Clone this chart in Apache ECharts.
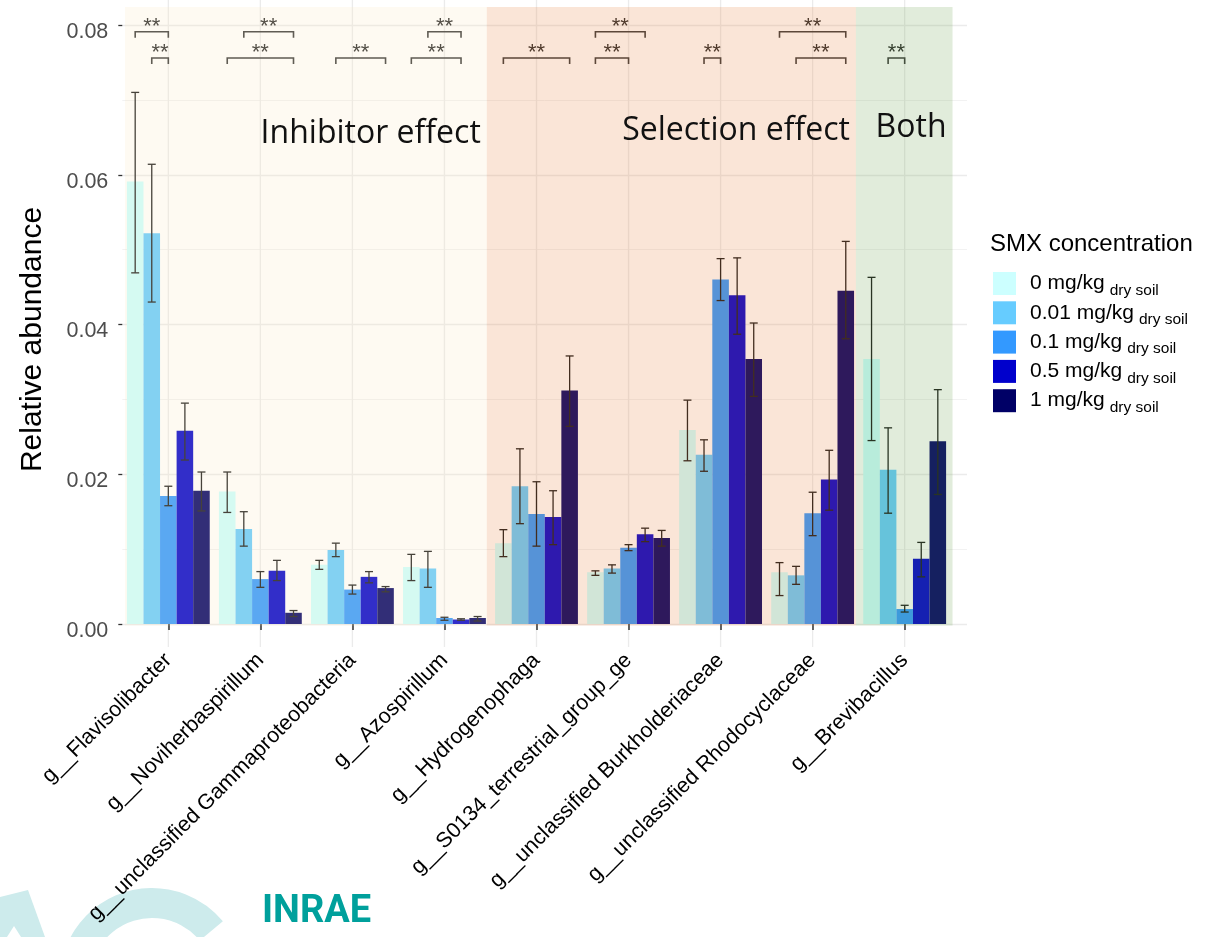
<!DOCTYPE html>
<html><head><meta charset="utf-8">
<script src="https://cdn.jsdelivr.net/npm/echarts@6/dist/echarts.min.js"></script>
<style>html,body{margin:0;padding:0;background:#fff}#c{width:1211px;height:937px}</style>
</head><body><div id="c"></div>
<script>
// ---------- data ----------
const genera = ['g__Flavisolibacter','g__Noviherbaspirillum','g__unclassified Gammaproteobacteria','g__Azospirillum','g__Hydrogenophaga','g__S0134_terrestrial_group_ge','g__unclassified Burkholderiaceae','g__unclassified Rhodocyclaceae','g__Brevibacillus'];
const concentrations = ['0 mg/kg','0.01 mg/kg','0.1 mg/kg','0.5 mg/kg','1 mg/kg'];
const mean0   = [0.0591, 0.0177, 0.0079, 0.0076, 0.0108, 0.0069, 0.0259, 0.0069, 0.0354];
const mean001 = [0.0522, 0.0127, 0.0099, 0.0074, 0.0184, 0.0074, 0.0226, 0.0065, 0.0206];
const mean01  = [0.0171, 0.0060, 0.0046, 0.0008, 0.0147, 0.0102, 0.0460, 0.0148, 0.0020];
const mean05  = [0.0258, 0.0071, 0.0063, 0.0006, 0.0143, 0.0120, 0.0439, 0.0193, 0.0087];
const mean1   = [0.0178, 0.0015, 0.0048, 0.0008, 0.0312, 0.0115, 0.0354, 0.0445, 0.0244];
const hi0   = [0.0710, 0.0203, 0.0085, 0.0093, 0.0126, 0.0071, 0.0299, 0.0082, 0.0463];
const lo0   = [0.0469, 0.0149, 0.0073, 0.0058, 0.0090, 0.0065, 0.0218, 0.0038, 0.0245];
const hi001 = [0.0614, 0.0150, 0.0108, 0.0097, 0.0234, 0.0079, 0.0246, 0.0077, 0.0262];
const lo001 = [0.0430, 0.0104, 0.0090, 0.0049, 0.0134, 0.0068, 0.0204, 0.0053, 0.0148];
const hi01  = [0.0184, 0.0070, 0.0052, 0.0009, 0.0190, 0.0106, 0.0488, 0.0176, 0.0025];
const lo01  = [0.0158, 0.0049, 0.0040, 0.0005, 0.0104, 0.0098, 0.0432, 0.0118, 0.0016];
const hi05  = [0.0295, 0.0085, 0.0070, 0.0007, 0.0178, 0.0128, 0.0489, 0.0232, 0.0109];
const lo05  = [0.0219, 0.0058, 0.0055, 0.0005, 0.0106, 0.0110, 0.0387, 0.0152, 0.0063];
const hi1   = [0.0203, 0.0018, 0.0050, 0.0010, 0.0358, 0.0125, 0.0402, 0.0511, 0.0313];
const lo1   = [0.0151, 0.0010, 0.0043, 0.0004, 0.0264, 0.0104, 0.0304, 0.0381, 0.0173];
const yTicks = [0.00, 0.02, 0.04, 0.06, 0.08];
// significance brackets: genus index, from bar, to bar, row
const bracketGenus = [0, 0, 1, 1, 2, 3, 3, 4, 5, 5, 6, 7, 7, 8];
const bracketFrom  = [0, 1, 1, 0, 1, 1, 0, 0, 0, 0, 1, 0, 1, 1];
const bracketTo    = [2, 2, 4, 4, 4, 3, 3, 4, 3, 2, 2, 4, 4, 2];
const bracketRow   = [0, 1, 0, 1, 1, 0, 1, 1, 0, 1, 1, 0, 1, 1];
const bracketLabel = '**';
// shaded effect regions (in genus-index units)
const regionNames = ['Inhibitor effect', 'Selection effect', 'Both'];
const regionFrom  = [-0.47, 3.46, 7.47];
const regionTo    = [3.46, 7.47, 8.52];

// ---------- styles / layout ----------
const means = [mean0, mean001, mean01, mean05, mean1];
const his = [hi0, hi001, hi01, hi05, hi1];
const los = [lo0, lo001, lo01, lo05, lo1];
const barColors = ['#CCFFFF', '#66CCFF', '#3399FF', '#0000CC', '#000066'];
const regionFill = ['rgba(250,230,190,0.2)', 'rgba(230,127,54,0.2)', 'rgba(103,162,74,0.2)'];
const regionLabelY = [0.0655, 0.0659, 0.0663];
const FONT = "'Liberation Sans', Arial, sans-serif";
const BRACKET_Y = [0.0791, 0.0756];
const REG_TOP = 0.0824, REG_BOT = -0.0002;
const Y0MIN = -0.00307, Y0MAX = 0.08334;
const GL = 122.3, GR = 260.3;

const chart = echarts.init(document.getElementById('c'), null, {renderer: 'canvas'});

const series = [];
// vertical grid lines at genus centres
series.push({
  type: 'custom', xAxisIndex: 0, yAxisIndex: 0, z: 0, silent: true,
  data: genera.map((g, i) => [i]),
  encode: {x: 0},
  renderItem(params, api) {
    const i = api.value(0);
    const top = api.coord([i, Y0MAX]), bot = api.coord([i, Y0MIN]);
    return {type: 'line', shape: {x1: top[0], y1: top[1], x2: bot[0], y2: bot[1]},
      style: {stroke: '#EBEBEB', lineWidth: 1.3}};
  }
});
// bars
concentrations.forEach((c, j) => {
  series.push({
    name: c, type: 'bar', xAxisIndex: 0, yAxisIndex: 0, z: 2,
    barGap: '0%', barCategoryGap: '10%',
    itemStyle: {color: barColors[j]},
    data: means[j]
  });
});
// error bars
concentrations.forEach((c, j) => {
  series.push({
    type: 'custom', xAxisIndex: 0, yAxisIndex: 0, z: 3, silent: true,
    data: means[j].map((m, i) => [i, m, his[j][i], los[j][i]]),
    encode: {x: 0, y: 1},
    renderItem(params, api) {
      const i = api.value(0);
      const band = api.size([1, 0])[0];
      const bw = band * 0.9 / 5;
      const cx = api.coord([i, 0])[0] + (j - 2) * bw;
      const yh = api.coord([i, api.value(2)])[1];
      const yl = api.coord([i, api.value(3)])[1];
      const cap = 4;
      const st = {stroke: '#1a1a1a', lineWidth: 1.3};
      return {type: 'group', children: [
        {type: 'line', shape: {x1: cx, y1: yh, x2: cx, y2: yl}, style: st},
        {type: 'line', shape: {x1: cx - cap, y1: yh, x2: cx + cap, y2: yh}, style: st},
        {type: 'line', shape: {x1: cx - cap, y1: yl, x2: cx + cap, y2: yl}, style: st}
      ]};
    }
  });
});
// significance brackets
series.push({
  type: 'custom', xAxisIndex: 0, yAxisIndex: 0, z: 4, silent: true,
  data: bracketGenus.map((g, k) => [g, bracketFrom[k], bracketTo[k], bracketRow[k]]),
  encode: {x: 0},
  renderItem(params, api) {
    const g = api.value(0), a = api.value(1), b = api.value(2), r = api.value(3);
    const band = api.size([1, 0])[0];
    const bw = band * 0.9 / 5;
    const c = api.coord([g, 0])[0];
    const xa = c + (a - 2) * bw, xb = c + (b - 2) * bw;
    const y = api.coord([g, BRACKET_Y[r]])[1];
    return {type: 'group', children: [
      {type: 'polyline', shape: {points: [[xa, y + 6], [xa, y], [xb, y], [xb, y + 6]]},
        style: {stroke: '#3a3a3a', lineWidth: 1.6, fill: null}},
      {type: 'text', x: (xa + xb) / 2, y: y - 5,
        style: {text: bracketLabel, fontSize: 22, fontFamily: FONT, fill: '#2a2a2a', align: 'center', verticalAlign: 'middle'}}
    ]};
  }
});
// shaded regions (drawn over bars, translucent) + labels
series.push({
  type: 'custom', xAxisIndex: 1, yAxisIndex: 0, z: 10, silent: true,
  data: regionFrom.map((f, k) => [f, regionTo[k], k]),
  encode: {x: [0, 1]},
  renderItem(params, api) {
    const k = api.value(2);
    const p0 = api.coord([api.value(0), REG_TOP]);
    const p1 = api.coord([api.value(1), REG_BOT]);
    const ly = api.coord([api.value(1), regionLabelY[k]])[1];
    return {type: 'group', children: [
      {type: 'rect', shape: {x: p0[0], y: p0[1], width: p1[0] - p0[0], height: p1[1] - p0[1]},
        style: {fill: regionFill[k]}},
      {type: 'text', x: p1[0] - 6, y: ly,
        style: {text: regionNames[k], fontSize: 32, fontFamily: "'Open Sans', 'Noto Sans', sans-serif",
          fill: '#111', align: 'right', verticalAlign: 'middle'}}
    ]};
  }
});

const option = {
  animation: false,
  backgroundColor: '#ffffff',
  title: {
    text: 'SMX concentration', left: 990, top: 232, padding: 0,
    textStyle: {fontSize: 24, fontWeight: 'normal', color: '#000', fontFamily: FONT}
  },
  legend: {
    data: concentrations, orient: 'vertical', left: 993, top: 272, padding: 0,
    itemWidth: 23, itemHeight: 23, itemGap: 2.8, icon: 'rect',
    formatter: n => '{m|' + n + '}{s|dry soil}',
    textStyle: {
      fontFamily: FONT, color: '#000',
      rich: {
        m: {fontSize: 21, fontFamily: FONT, color: '#000', padding: [0, 5, 0, 9]},
        s: {fontSize: 15.5, fontFamily: FONT, color: '#000', padding: [14, 0, 0, 0]}
      }
    }
  },
  grid: [
    {left: GL, right: GR, top: 0, bottom: 290},
    {left: GL, right: 244, top: 25, bottom: 313}
  ],
  xAxis: [
    {type: 'category', gridIndex: 0, data: genera,
      axisLine: {show: false},
      axisTick: {show: true, alignWithLabel: true, length: 6, lineStyle: {color: '#333', width: 1.5}},
      axisLabel: {interval: 0, rotate: 45, fontSize: 21.5, fontFamily: FONT, color: '#000', margin: 10},
      splitLine: {show: false}},
    {type: 'value', gridIndex: 0, min: -0.5, max: 8.5, show: false},
    {type: 'value', gridIndex: 1, min: 0, max: 1, show: false}
  ],
  yAxis: [
    {type: 'value', gridIndex: 0, min: Y0MIN, max: Y0MAX, show: false},
    {type: 'value', gridIndex: 1, min: yTicks[0], max: yTicks[yTicks.length - 1], interval: yTicks[1] - yTicks[0],
      name: 'Relative abundance', nameLocation: 'middle', nameGap: 75,
      nameTextStyle: {fontSize: 30, fontFamily: FONT, color: '#000', padding: [0, 30, 0, 0]},
      axisLine: {show: false},
      axisTick: {show: true, length: 4, lineStyle: {color: '#333', width: 1.3}},
      axisLabel: {margin: 14,
        formatter: v => '{v|' + v.toFixed(2) + '}',
        rich: {v: {fontSize: 21.5, fontFamily: FONT, color: '#4D4D4D', padding: [14, 0, 0, 0]}}},
      splitLine: {show: true, lineStyle: {color: '#EBEBEB', width: 1.3}},
      minorTick: {show: false, splitNumber: 2},
      minorSplitLine: {show: true, lineStyle: {color: '#F2F2F2', width: 1}}}
  ],
  series: series,
  graphic: [
    {type: 'sector', silent: true, z: -1, shape: {cx: 152, cy: 980, r: 92, r0: 62, startAngle: Math.PI * 1.12, endAngle: Math.PI * 1.78},
      style: {fill: '#CDEBEC'}},
    {type: 'polygon', silent: true, z: -1, shape: {points: [[0, 897], [28, 890], [45, 937], [0, 937]]},
      style: {fill: '#CDEBEC'}},
    {type: 'polygon', silent: true, z: -1, shape: {points: [[7, 937], [14, 926], [21, 937]]},
      style: {fill: '#ffffff'}},
    {type: 'text', left: 262, top: 893, silent: true,
      style: {text: 'INRAE', fontSize: 38, fontWeight: 'bold', fontFamily: 'Roboto, sans-serif', fill: '#00A09C'}}
  ]
};
chart.setOption(option);
</script>
</body></html>
